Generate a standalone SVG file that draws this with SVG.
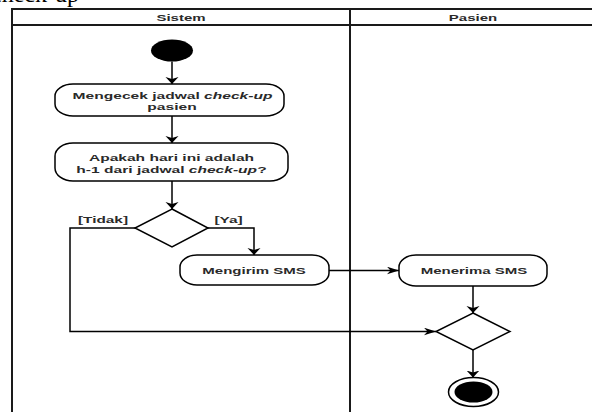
<svg xmlns="http://www.w3.org/2000/svg" width="592" height="412" viewBox="0 0 592 412">
<style>
.lane{fill:none;stroke:#1a1a1a;stroke-width:2}
.node{fill:#fff;stroke:#000;stroke-width:1.5}
.edge{fill:none;stroke:#000;stroke-width:1.5}
.t{font-family:"Liberation Sans",Arial,sans-serif;font-size:9.5px;font-weight:bold;fill:#2a2a2a;text-anchor:middle}
.h{font-family:"Liberation Sans",Arial,sans-serif;font-size:9.5px;font-weight:bold;fill:#2a2a2a;text-anchor:middle}
.title{font-family:"Liberation Serif","Times New Roman",serif;font-size:24px;fill:#000}
</style>
<defs>
<marker id="av" markerUnits="userSpaceOnUse" viewBox="0 -7 7 14" refX="7" refY="0" markerWidth="7" markerHeight="14" orient="auto">
<path d="M7,0 L0,-6.5 L2,0 L0,6.5 Z" fill="#000"/>
</marker>
<marker id="ah" markerUnits="userSpaceOnUse" viewBox="0 -4 12 8" refX="12" refY="0" markerWidth="12" markerHeight="8" orient="auto">
<path d="M12,0 L0,-3.8 L3.5,0 L0,3.8 Z" fill="#000"/>
</marker>
</defs>
<rect width="592" height="412" fill="#fff"/>
<text class="title" x="79" y="1.5" text-anchor="end">check-up</text>
<g id="lanes">
<rect class="lane" x="12" y="9" width="584" height="420"/>
<line class="lane" x1="12" y1="25" x2="596" y2="25"/>
<line class="lane" x1="350" y1="9" x2="350" y2="420"/>
<text class="h" transform="translate(181,20.5) scale(1.58,1)">Sistem</text>
<text class="h" transform="translate(473,20.5) scale(1.58,1)">Pasien</text>
</g>
<g id="edges">
<line class="edge" x1="172" y1="61.5" x2="172" y2="84" marker-end="url(#av)"/>
<line class="edge" x1="172" y1="116" x2="172" y2="143" marker-end="url(#av)"/>
<line class="edge" x1="172" y1="181" x2="172" y2="209" marker-end="url(#av)"/>
<polyline class="edge" points="208,228 254,228 254,255" marker-end="url(#av)"/>
<polyline class="edge" points="135,228 70,228 70,331.5 436,331.5" marker-end="url(#ah)"/>
<line class="edge" x1="329" y1="270.5" x2="399" y2="270.5" marker-end="url(#ah)"/>
<line class="edge" x1="473" y1="286" x2="473" y2="313" marker-end="url(#av)"/>
<line class="edge" x1="473" y1="350" x2="473" y2="377.5" marker-end="url(#av)"/>
<text class="t" transform="translate(103,223.3) scale(1.62,1)">[Tidak]</text>
<text class="t" transform="translate(228.5,223.3) scale(1.62,1)">[Ya]</text>
</g>
<g id="start">
<ellipse cx="172" cy="50.5" rx="21" ry="11" fill="#000"/>
</g>
<g id="cek">
<rect class="node" x="55" y="84" width="229" height="32" rx="18" ry="12"/>
<text class="t" transform="translate(172.5,99.2) scale(1.64,1)">Mengecek jadwal <tspan font-style="italic">check-up</tspan></text>
<text class="t" transform="translate(172,110.2) scale(1.64,1)">pasien</text>
</g>
<g id="tanya">
<rect class="node" x="55" y="143" width="233" height="38" rx="18" ry="13"/>
<text class="t" transform="translate(171.5,160.6) scale(1.64,1)">Apakah hari ini adalah</text>
<text class="t" transform="translate(171.5,172.6) scale(1.64,1)">h-1 dari jadwal <tspan font-style="italic">check-up</tspan>?</text>
</g>
<g id="keputusan">
<polygon class="node" points="172,209 208,228 172,247 135,228"/>
</g>
<g id="kirim">
<rect class="node" x="180" y="255" width="149" height="30" rx="17" ry="12"/>
<text class="t" transform="translate(254,274.4) scale(1.58,1)">Mengirim SMS</text>
</g>
<g id="terima">
<rect class="node" x="399" y="255" width="148" height="31" rx="17" ry="12"/>
<text class="t" transform="translate(474,274.4) scale(1.58,1)">Menerima SMS</text>
</g>
<g id="gabung">
<polygon class="node" points="473,313 510,331.5 473,350 436,331.5"/>
</g>
<g id="end">
<ellipse cx="473.5" cy="392" rx="25" ry="14.5" fill="#fff" stroke="#000" stroke-width="1.5"/>
<ellipse cx="473.5" cy="392" rx="19" ry="10.5" fill="#000"/>
</g>
</svg>
